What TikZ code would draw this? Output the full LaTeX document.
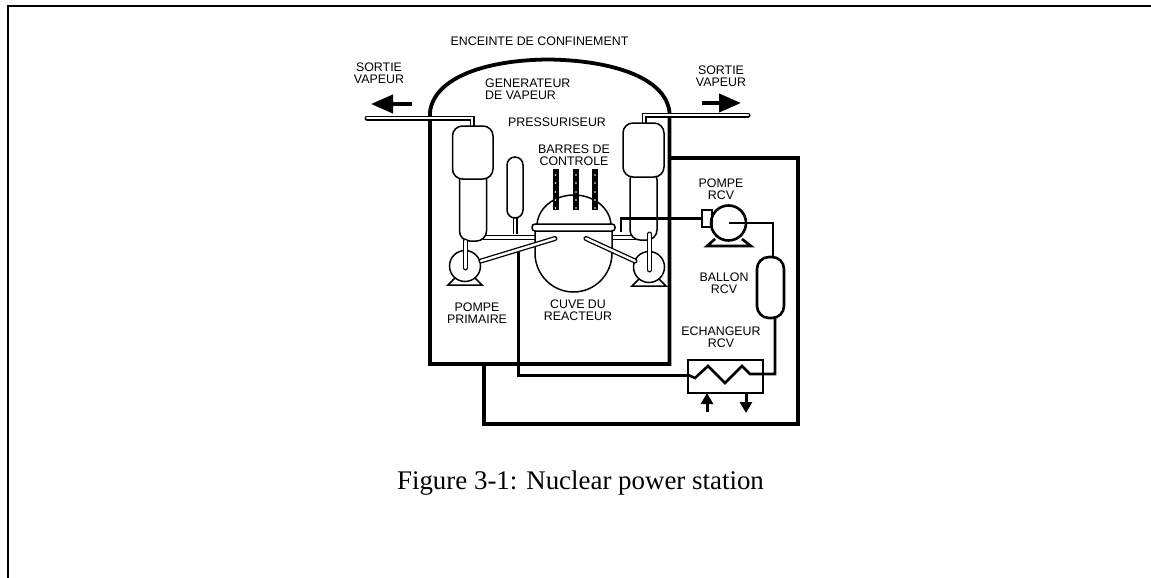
\documentclass[tikz,border=0pt]{standalone}
\usepackage{fontspec}
\setmainfont{Liberation Sans}
\newfontfamily\legende{Liberation Serif}
\usetikzlibrary{arrows.meta}
\tikzset{
	etiquette/.style={inner sep=0pt, align=center, font=\fontsize{12.4}{12.4}\selectfont},
	mur/.style={line width=3.8pt},
	circuit/.style={line width=2.6pt},
	contour/.style={line width=1.5pt, fill=white},
	tuyau/.style={double=white, double distance=2.4pt, line width=1.3pt},
	tube/.style={tuyau, line cap=round},
	fleche/.style={line width=4pt, -{Triangle[length=22pt,width=18pt]}},
	petitefleche/.style={line width=3pt, -{Triangle[length=11pt,width=12pt]}}
}
\begin{document}
\begin{tikzpicture}[x=1pt,y=-1pt]
	\useasboundingbox (0,0) rectangle (1151,578);
	%Cadre
	\draw [line width=2pt] (8,578) -- (8,6) -- (1151,6);
	%Enceinte
	\draw [mur] (430,364) -- (430,112) .. controls (434,78) and (485,60) .. (548,59.5) .. controls (605,60) and (665,75) .. (669.5,112) -- (669.5,364) -- cycle;
	%Circuit RCV exterieur
	\draw [mur] (669.5,158) -- (798,158) -- (798,424) -- (484,424) -- (484,364);
	%Sorties vapeur
	\draw [tube] (367,118) -- (472,118) -- (472,126);
	\draw [tube] (748,115) -- (644,115) -- (644,126);
	\coordinate (depart1) at (412,104);
	\coordinate (arrivee1) at (371,104);
	\coordinate (depart2) at (702,103);
	\coordinate (arrivee2) at (741,103);
	\draw [fleche] (depart1) -- (arrivee1);
	\draw [fleche] (depart2) -- (arrivee2);
	%Branches chaudes
	\draw [tuyau] (480,237.5) -- (540,237.5);
	\draw [tuyau] (605,237.5) -- (640,237.5);
	%Generateurs de vapeur
	\draw [contour, rounded corners=10pt] (459.5,170) -- (459.5,241) -- (486.5,241) -- (486.5,170) -- cycle;
	\draw [contour, rounded corners=10pt] (452.5,126) rectangle (493,179);
	\draw [contour, rounded corners=10pt] (630,170) -- (630,240) -- (657,240) -- (657,170) -- cycle;
	\draw [contour, rounded corners=10pt] (623,123) rectangle (664,177);
	%Pressuriseur
	\draw [tuyau] (515,217) -- (515,234);
	\draw [contour, rounded corners=8pt] (507,157) rectangle (523,218);
	%Cuve
	\draw [contour] (535,228) -- (535,253) arc [start angle=180, end angle=0, x radius=38.5, y radius=39] -- (612,228);
	\draw [contour] (537,226) arc [start angle=180, end angle=360, x radius=37, y radius=31];
	%Barres de controle
	\foreach \x in {555.5,576,595} {
		\fill (\x-3,169) rectangle (\x+3,210);
		\foreach \y in {175,183,192,200,208}
			\fill [white] (\x,\y) circle (0.9);
	}
	\draw [contour, rounded corners=3pt] (532,224) rectangle (615,231);
	%Pompes primaires
	\foreach \x/\y in {465/266,649/267} {
		\draw [line width=1.5pt] (\x,\y) circle (15.5);
		\draw [line width=1.5pt] (\x-10,\y+12) -- (\x-17,\y+19) -- (\x+17,\y+19) -- (\x+10,\y+12);
	}
	%Pompe RCV
	\node (pompercv) [draw, circle, circuit, inner sep=0pt, outer sep=0pt, minimum size=35pt] at (728.5,223) {};
	\node (caisson) [draw, circuit, inner sep=0pt, outer sep=0pt, minimum width=10pt, minimum height=17pt] at (707,218.5) {};
	\draw [circuit] (715,239) -- (707,246) -- (751,246) -- (742,239);
	%Ballon
	\node (ballon) [draw, circuit, rounded corners=12pt, inner sep=0pt, outer sep=0pt, minimum width=27pt, minimum height=61pt] at (770.5,287.5) {};
	%Echangeur
	\node (echangeur) [draw, circuit, inner sep=0pt, outer sep=0pt, minimum width=75pt, minimum height=33pt] at (725.5,376.5) {};
	\draw [circuit] ([yshift=1.5pt]echangeur.west) -- (695,378) -- (708,366) -- (725,383) -- (742,366) -- (750,374) -| ([xshift=4.5pt]ballon.south);
	%Boucle interieure RCV
	\draw [line width=3pt] (518,251) |- ([yshift=1.5pt]echangeur.west);
	%Branches froides
	\draw [tube] (481,261) -- (555,238.5);
	\draw [tube] (586,238.5) -- (635,261);
	\draw [tube] (465.5,241) -- (465.5,268);
	\draw [tube] (649.5,234) -- (649.5,270);
	%Liaisons RCV
	\draw [circuit] (621,232) |- (caisson.west);
	\draw [circuit] (pompercv.center) -| ([xshift=2.5pt]ballon.north);
	%Fleches echangeur
	\coordinate (entree) at (707,412);
	\coordinate (sortieb) at (746,413);
	\draw [petitefleche] (entree) -- (entree |- echangeur.south);
	\draw [petitefleche] (sortieb |- echangeur.south) -- (sortieb);
	%Textes
	\node (enceinte) [etiquette] at (539.5,41) {ENCEINTE DE CONFINEMENT};
	\node (sortie1) [etiquette] at (379,73) {SORTIE\\VAPEUR};
	\node (sortie2) [etiquette] at (721,76) {SORTIE\\VAPEUR};
	\node (generateur) [etiquette, align=left, anchor=west] at (485,89) {GENERATEUR\\DE VAPEUR};
	\node (pressuriseur) [etiquette] at (557,122) {PRESSURISEUR};
	\node (barres) [etiquette] at (574,155) {BARRES DE\\CONTROLE};
	\node (pompe) [etiquette] at (721,189.5) {POMPE\\RCV};
	\node (primaire) [etiquette] at (477,313) {POMPE\\PRIMAIRE};
	\node (cuve) [etiquette] at (578,310.5) {CUVE DU\\REACTEUR};
	\node (ballontxt) [etiquette] at (724,283.5) {BALLON\\RCV};
	\node (echangeurtxt) [etiquette] at (721,337) {ECHANGEUR\\RCV};
	\node (figure) [inner sep=0pt, anchor=base, font=\legende\fontsize{26.9}{28}\selectfont] at (580.5,489) {Figure 3-1: Nuclear power station};
\end{tikzpicture}
\end{document}
